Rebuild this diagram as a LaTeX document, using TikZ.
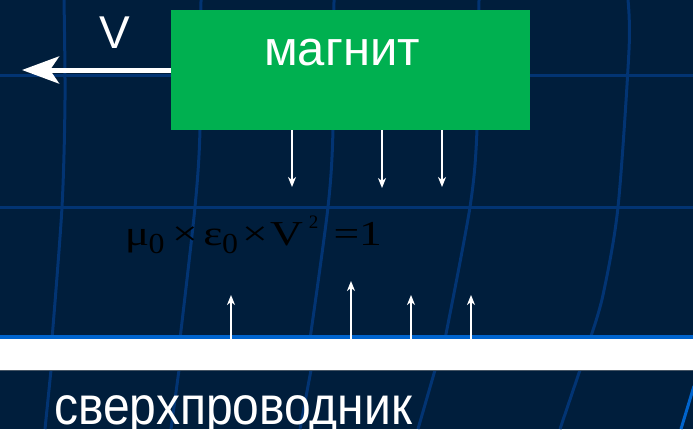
\documentclass[tikz,border=0pt]{standalone}
\usepackage{fontspec}
\setmainfont{Liberation Sans}
\newfontfamily\formulafont{Liberation Serif}
\usetikzlibrary{arrows.meta}
\definecolor{bgc}{RGB}{0,30,60}
\definecolor{gridc}{RGB}{2,52,115}
\definecolor{brightb}{RGB}{0,100,205}
\definecolor{magnetg}{RGB}{0,176,80}
\definecolor{baredge}{RGB}{70,85,100}
\begin{document}
\begin{tikzpicture}[x=1pt,y=-1pt,
  gridline/.style={draw=gridc,line width=3pt},
  brightline/.style={draw=brightb,line width=3pt},
  magnetbox/.style={fill=magnetg,draw=none,minimum width=359pt,minimum height=120pt,inner sep=0pt},
  barbox/.style={fill=white,draw=none,minimum width=695pt,minimum height=31pt,inner sep=0pt},
  bigtext/.style={text=white,inner sep=0pt,anchor=base,font=\fontsize{49}{56}\selectfont},
  fmain/.style={text=black,inner sep=0pt,anchor=base,font=\formulafont\fontsize{35}{40}\selectfont},
  fsub/.style={text=black,inner sep=0pt,anchor=base,font=\formulafont\fontsize{29}{34}\selectfont},
  fsup/.style={text=black,inner sep=0pt,anchor=base,font=\formulafont\fontsize{19}{22}\selectfont},
  bigarrow/.style={draw=white,line width=5pt,-{Stealth[length=37pt,width=27pt,inset=9pt]}},
  thinarrow/.style={draw=white,line width=1.5pt,-{Stealth[length=10pt,width=8pt,inset=3pt]}}]
\useasboundingbox (0,0) rectangle (693,429);
\fill[bgc] (0,0) rectangle (693,429);
% background grid
\draw[gridline] (0,75) -- (693,75);
\draw[gridline] (0,207) -- (693,207);
\draw[gridline] plot[smooth] coordinates {(64,0) (65,100) (62,207) (52,339)};
\draw[gridline] plot[smooth] coordinates {(201,0) (200,130) (195,207) (180,339)};
\draw[gridline] plot[smooth] coordinates {(334,0) (333,130) (328,207) (310,339)};
\draw[gridline] plot[smooth] coordinates {(479,0) (477,130) (470,207) (445,339)};
\draw[gridline] plot[smooth] coordinates {(628,0) (629,50) (618,207) (603,295) (590,339)};
\draw[gridline] (51,370) -- (45,429);
\draw[gridline] (179,370) -- (171,429);
\draw[gridline] (311,370) -- (300,429);
\draw[gridline] (435,370) -- (418,429);
\draw[gridline] (580,370) -- (560,429);
\draw[brightline] (694,386) -- (681,429);
% magnet
\node[magnetbox] (magnet) at (350.5,70) {};
\node[bigtext] (mtext) at (342,65) {магнит};
% velocity arrow
\coordinate (vtip) at (22,70);
\draw[bigarrow] (magnet.west) -- (vtip);
\node[bigtext,font=\fontsize{46}{52}\selectfont] (vlabel) at (115,48) {V};
% superconductor bar
\node[barbox] (bar) at (346.5,354.5) {};
\draw[brightb,line width=4pt] ([yshift=2pt]bar.north west) -- ([yshift=2pt]bar.north east);
\draw[baredge,line width=1pt] (bar.south west) -- (bar.south east);
\node[bigtext,font=\fontsize{48}{56}\selectfont,anchor=base west] (stext) at (54,424) {\scalebox{1}[1.12]{сверхпроводник}};
% field arrows from magnet
\coordinate (d1) at (292,187);
\coordinate (d2) at (382,188);
\coordinate (d3) at (442,187);
\draw[thinarrow] (magnet.south -| d1) -- (d1);
\draw[thinarrow] (magnet.south -| d2) -- (d2);
\draw[thinarrow] (magnet.south -| d3) -- (d3);
% field arrows from superconductor
\coordinate (u1) at (231,295);
\coordinate (u2) at (351,281);
\coordinate (u3) at (411,295);
\coordinate (u4) at (471,295);
\draw[thinarrow] (bar.north -| u1) -- (u1);
\draw[thinarrow] (bar.north -| u2) -- (u2);
\draw[thinarrow] (bar.north -| u3) -- (u3);
\draw[thinarrow] (bar.north -| u4) -- (u4);
% formula
\node[fmain] (f1) at (137,245) {\scalebox{1.3}[1]{μ}};
\node[fsub] (f2) at (156.5,253) {\scalebox{1.1}[1]{0}};
\node[fmain] (f3) at (185,245) {\scalebox{1.3}[1]{×}};
\node[fmain] (f4) at (213,245) {\scalebox{1.3}[1]{ε}};
\node[fsub] (f5) at (230,253) {\scalebox{1.1}[1]{0}};
\node[fmain] (f6) at (255,245) {\scalebox{1.3}[1]{×}};
\node[fmain] (f7) at (286.5,245) {\scalebox{1.3}[1]{V}};
\node[fsup] (f8) at (313.5,228) {2};
\node[fmain] (f9) at (346.5,245) {\scalebox{1.3}[1]{=}};
\node[fmain] (f10) at (370.5,245) {\scalebox{1.3}[1]{1}};
\end{tikzpicture}
\end{document}
